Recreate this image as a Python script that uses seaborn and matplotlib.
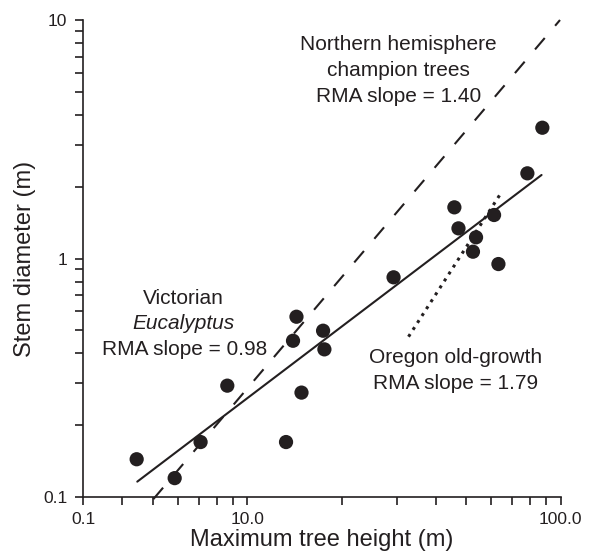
import matplotlib
matplotlib.use("Agg")
import matplotlib.pyplot as plt
import matplotlib.ticker as mticker
import numpy as np
import seaborn as sns

# Victorian Eucalyptus: maximum tree height (m) vs stem diameter (m)
height = [4.44, 5.87, 7.10, 8.64, 13.3, 14.36, 14.0, 14.9, 17.46, 17.63,
          29.3, 45.8, 47.2, 53.7, 52.5, 61.3, 63.3, 78.3, 87.4]
diameter = [0.144, 0.120, 0.170, 0.293, 0.170, 0.570, 0.452, 0.274, 0.498, 0.416,
            0.834, 1.639, 1.338, 1.227, 1.068, 1.522, 0.948, 2.276, 3.535]

# RMA lines, end points
vic_x = [4.46, 86.9]
vic_y = [0.116, 2.24]
north_x = [5.02, 99.5]
north_y = [0.098, 10.0]
oregon_x = [32.7, 64.9]
oregon_y = [0.470, 1.905]

x_ticks = [3, 10, 100]
x_tick_labels = ["0.1", "10.0", "100.0"]
y_ticks = [0.1, 1, 10]
y_tick_labels = ["0.1", "1", "10"]

ink = "#231f20"

sns.set_style("ticks")
plt.rcParams["font.family"] = ["Liberation Sans", "DejaVu Sans"]

fig = plt.figure(figsize=(5.92, 5.56), dpi=100)
ax = fig.add_axes([0.1407, 0.1061, 0.8064, 0.8579])

sns.scatterplot(x=height, y=diameter, s=105, color=ink, edgecolor="none",
                ax=ax, zorder=3)
sns.lineplot(x=vic_x, y=vic_y, color=ink, linewidth=1.5, ax=ax)
sns.lineplot(x=north_x, y=north_y, color=ink, linewidth=1.5,
             linestyle=(0, (7.2, 7.7)), ax=ax, clip_on=False)
sns.lineplot(x=oregon_x, y=oregon_y, color=ink, linewidth=2.2,
             linestyle=(0, (1, 1.7)), ax=ax)

ax.set_xscale("log")
ax.set_yscale("log")
ax.set_xlim(3, 100)
ax.set_ylim(0.1, 10)

ax.set_xticks(x_ticks, x_tick_labels)
ax.set_yticks(y_ticks, y_tick_labels)
ax.xaxis.set_minor_locator(mticker.LogLocator(base=10, subs=np.arange(2, 10)))
ax.yaxis.set_minor_locator(mticker.LogLocator(base=10, subs=np.arange(2, 10)))
ax.xaxis.set_minor_formatter(mticker.NullFormatter())
ax.yaxis.set_minor_formatter(mticker.NullFormatter())
ax.tick_params(which="both", direction="out", length=5.5, width=1.2,
               color=ink, labelcolor=ink, labelsize=12.5)
ax.tick_params(axis="x", which="both", pad=5)
ax.tick_params(axis="y", which="both", pad=6)

sns.despine(ax=ax)
for side in ["left", "bottom"]:
    ax.spines[side].set_linewidth(1.2)
    ax.spines[side].set_color(ink)

ax.set_xlabel("Maximum tree height (m)", fontsize=17, color=ink, labelpad=2)
ax.set_ylabel("Stem diameter (m)", fontsize=17, color=ink, labelpad=5)

# annotations (one call per line, baseline positions in axes fraction)
notes = [
    ("Northern hemisphere", 0.660, 0.937, "normal"),
    ("champion trees", 0.660, 0.8826, "normal"),
    ("RMA slope = 1.40", 0.660, 0.8287, "normal"),
    ("Victorian", 0.209, 0.4046, "normal"),
    ("Eucalyptus", 0.209, 0.3516, "italic"),
    ("RMA slope = 0.98", 0.213, 0.2977, "normal"),
    ("Oregon old-growth", 0.780, 0.2803, "normal"),
    ("RMA slope = 1.79", 0.780, 0.2264, "normal"),
]
for txt, tx, ty, st in notes:
    ax.text(tx, ty, txt, transform=ax.transAxes, ha="center", va="baseline",
            fontsize=15, style=st, color=ink)

plt.savefig("out.png", dpi=100)
plt.close()
